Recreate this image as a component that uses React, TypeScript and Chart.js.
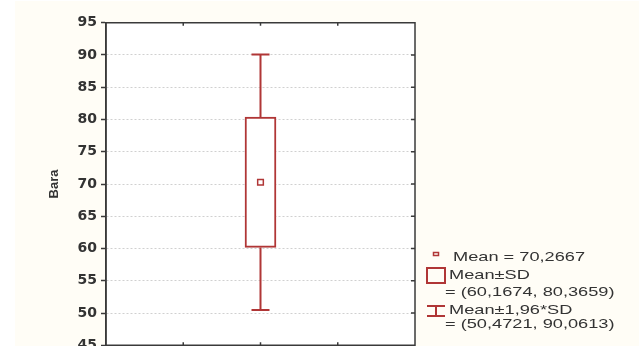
import React, { useEffect, useRef } from 'react';
import { Chart, registerables } from 'chart.js';

Chart.register(...registerables);

// ---- data ----
const variables = ['Bara'];
const variablePositions = [1];
const meanValues = [70.2667];
const sdLower = [60.1674];
const sdUpper = [80.3659];
const ciLower = [50.4721];
const ciUpper = [90.0613];
const yMin = 45;
const yMax = 95;
const yStep = 5;
const xMin = 0.5;
const xMax = 1.5;
const xTickValues = [0.75, 1, 1.25];
const legendNames = ['Mean', 'Mean±SD', 'Mean±1,96*SD'];

const RED = '#b03636';
const FRAME = '#3a3a3a';
const TEXT = '#333333';

const fmt = (v: number) => v.toFixed(4).replace('.', ',');

const backgroundPlugin = {
  id: 'bgFrame',
  beforeDraw(chart: any) {
    const { ctx, chartArea: a, width, height } = chart;
    ctx.save();
    ctx.fillStyle = '#fffdf6';
    ctx.fillRect(15, 1, width - 15, height - 1);
    ctx.fillStyle = '#ffffff';
    ctx.fillRect(a.left, a.top, a.right - a.left, a.bottom - a.top);
    ctx.restore();
  },
  beforeDatasetsDraw(chart: any) {
    // whiskers (Mean ± 1.96*SD)
    const { ctx } = chart;
    const xs = chart.scales.x;
    const ys = chart.scales.y;
    ctx.save();
    ctx.strokeStyle = RED;
    ctx.lineWidth = 2;
    variablePositions.forEach((p, i) => {
      const x = xs.getPixelForValue(p);
      const yLo = ys.getPixelForValue(ciLower[i]);
      const yHi = ys.getPixelForValue(ciUpper[i]);
      const yBoxLo = ys.getPixelForValue(sdLower[i]);
      const yBoxHi = ys.getPixelForValue(sdUpper[i]);
      const cap = 9;
      ctx.beginPath();
      ctx.moveTo(x, yHi);
      ctx.lineTo(x, yBoxHi);
      ctx.moveTo(x, yBoxLo);
      ctx.lineTo(x, yLo);
      ctx.moveTo(x - cap, yHi);
      ctx.lineTo(x + cap, yHi);
      ctx.moveTo(x - cap, yLo);
      ctx.lineTo(x + cap, yLo);
      ctx.stroke();
    });
    ctx.restore();
  },
  afterDraw(chart: any) {
    const { ctx, chartArea: a } = chart;
    const xs = chart.scales.x;
    const ys = chart.scales.y;
    ctx.save();
    // frame
    ctx.strokeStyle = FRAME;
    ctx.lineWidth = 1.5;
    ctx.strokeRect(a.left, a.top, a.right - a.left, a.bottom - a.top);
    // inward ticks
    ctx.beginPath();
    xTickValues.forEach((v) => {
      const x = xs.getPixelForValue(v);
      ctx.moveTo(x, a.top);
      ctx.lineTo(x, a.top + 3);
      ctx.moveTo(x, a.bottom);
      ctx.lineTo(x, a.bottom - 3);
    });
    ys.ticks.forEach((t: any) => {
      if (t.value <= yMin || t.value >= yMax) return;
      const y = ys.getPixelForValue(t.value);
      ctx.moveTo(a.right, y);
      ctx.lineTo(a.right - 4, y);
    });
    ctx.stroke();

    // legend
    const lx = 436;
    const sx = 1.4;
    const drawText = (s: string, x: number, y: number) => {
      ctx.save();
      ctx.translate(x, y);
      ctx.scale(sx, 1);
      ctx.fillText(s, 0, 0);
      ctx.restore();
    };
    ctx.font = '13px "Liberation Sans", Arial, sans-serif';
    ctx.fillStyle = TEXT;
    ctx.textBaseline = 'middle';
    ctx.textAlign = 'left';
    ctx.strokeStyle = RED;

    // mean marker
    ctx.lineWidth = 1.5;
    ctx.strokeRect(lx - 2.5, 252.5, 5, 3);
    drawText(`${legendNames[0]} = ${fmt(meanValues[0])}`, 453, 257);

    // box icon
    ctx.lineWidth = 2;
    ctx.strokeRect(lx - 9, 268, 18, 15);
    drawText(legendNames[1], 449, 275);
    drawText(`= (${fmt(sdLower[0])}, ${fmt(sdUpper[0])})`, 445, 292);

    // whisker icon
    ctx.beginPath();
    ctx.moveTo(lx - 9, 306);
    ctx.lineTo(lx + 9, 306);
    ctx.moveTo(lx, 306);
    ctx.lineTo(lx, 316);
    ctx.moveTo(lx - 9, 316);
    ctx.lineTo(lx + 9, 316);
    ctx.stroke();
    drawText(legendNames[2], 449, 310);
    drawText(`= (${fmt(ciLower[0])}, ${fmt(ciUpper[0])})`, 445, 324);
    ctx.restore();
  },
};

export default function App() {
  const canvasRef = useRef<HTMLCanvasElement | null>(null);

  useEffect(() => {
    const canvas = canvasRef.current;
    if (!canvas) return;
    const chart = new Chart(canvas, {
      type: 'bar',
      data: {
        labels: variables,
        datasets: [
          {
            type: 'bar',
            label: legendNames[1],
            data: variablePositions.map((p, i) => ({ x: p, y: [sdLower[i], sdUpper[i]] })) as any,
            backgroundColor: '#ffffff',
            borderColor: RED,
            borderWidth: 2,
            borderSkipped: false,
            barThickness: 31,
            order: 2,
          } as any,
          {
            type: 'scatter',
            label: legendNames[0],
            data: variablePositions.map((p, i) => ({ x: p, y: meanValues[i] })),
            pointStyle: 'rect',
            pointRadius: 4,
            pointBorderWidth: 1.5,
            pointBackgroundColor: '#ffffff',
            pointBorderColor: RED,
            order: 1,
          } as any,
        ],
      },
      options: {
        animation: false,
        responsive: true,
        maintainAspectRatio: false,
        layout: { padding: { left: 0, right: 224, top: 22.75, bottom: 26.75 } },
        plugins: {
          legend: { display: false },
          tooltip: { enabled: false },
        },
        scales: {
          x: {
            type: 'linear',
            display: false,
            offset: false,
            min: xMin,
            max: xMax,
            grid: { offset: false },
          },
          y: {
            type: 'linear',
            min: yMin,
            max: yMax,
            afterFit: (scale: any) => {
              scale.width = 106;
            },
            ticks: {
              stepSize: yStep,
              padding: 4,
              color: TEXT,
              font: { family: '"DejaVu Sans", sans-serif', size: 14, weight: 'bold' },
            },
            grid: {
              color: '#d0d0d0',
              lineWidth: 1,
              borderDash: [2, 2],
              tickColor: FRAME,
              tickLength: 5,
              tickWidth: 1.5,
              tickBorderDash: [],
            } as any,
            border: { display: true, color: FRAME, width: 1.5, dash: [2, 2] } as any,
            title: {
              display: true,
              text: variables[0],
              color: TEXT,
              font: { family: '"Liberation Sans", Arial, sans-serif', size: 13, weight: 'bold' },
              padding: { top: 47, bottom: 0 },
            },
          },
        },
      } as any,
      plugins: [backgroundPlugin],
    });
    return () => chart.destroy();
  }, []);

  return (
    <div
      style={{
        position: 'fixed',
        left: 0,
        top: 0,
        width: 639,
        height: 346,
        overflow: 'hidden',
        background: '#ffffff',
      }}
    >
      <div style={{ position: 'relative', width: 639, height: 372 }}>
        <canvas ref={canvasRef} />
      </div>
    </div>
  );
}
